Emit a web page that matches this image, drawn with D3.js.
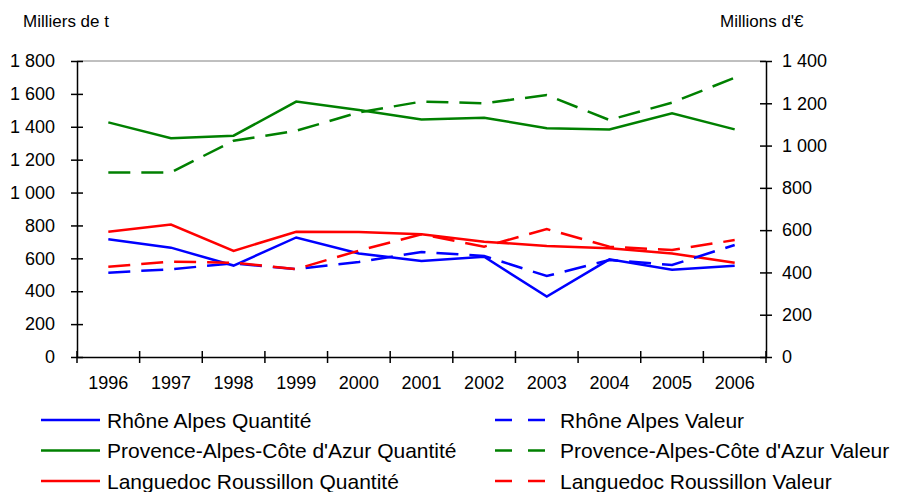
<!DOCTYPE html>
<html><head><meta charset="utf-8">
<script src="https://cdn.jsdelivr.net/npm/d3@7/dist/d3.min.js"></script>
<style>
body{margin:0;background:#fff;}
text{font-family:"Liberation Sans",Arial,sans-serif;fill:#000;}
</style></head>
<body><svg id="c" width="899" height="492"></svg>
<script>
const years = ["1996","1997","1998","1999","2000","2001","2002","2003","2004","2005","2006"];
const leftTicks = [0,200,400,600,800,1000,1200,1400,1600,1800];
const rightTicks = [0,200,400,600,800,1000,1200,1400];
const rhoneQ = [716,665,556,727,630,584,610,367,594,530,555];
const pacaQ  = [1427,1330,1346,1553,1502,1445,1455,1391,1384,1482,1384];
const langQ  = [762,805,645,762,760,746,701,675,661,630,573];
const rhoneV = [399,415,443,416,449,497,478,383,459,435,530];
const pacaV  = [873,873,1023,1070,1157,1208,1200,1239,1121,1203,1321];
const langV  = [427,451,446,416,503,580,522,605,522,506,553];
const seriesNames = ["Rhône Alpes Quantité","Provence-Alpes-Côte d'Azur Quantité","Languedoc Roussillon Quantité",
  "Rhône Alpes Valeur","Provence-Alpes-Côte d'Azur Valeur","Languedoc Roussillon Valeur"];
const colors = ["#0000ff","#008000","#ff0000"];

const svg = d3.select("#c");
const L = 77, R = 766, T = 61, B = 357;
const x = d3.scaleBand().domain(years).range([L,R]);
const yL = d3.scaleLinear().domain([0,1800]).range([B,T]);
const yR = d3.scaleLinear().domain([0,1400]).range([B,T]);
const loc = d3.formatLocale({decimal:",",thousands:" ",grouping:[3],currency:["","€"]});
const fmt = loc.format(",d");

// top border
svg.append("line").attr("x1",L).attr("x2",R).attr("y1",T).attr("y2",T).attr("stroke","#808080").attr("stroke-width",1);

// left axis
const gL = svg.append("g").attr("transform",`translate(${L},0)`)
  .call(d3.axisLeft(yL).tickValues(leftTicks).tickFormat(fmt).tickSizeInner(6).tickSizeOuter(0).tickPadding(16));
gL.selectAll(".tick line").attr("x2",6).attr("x1",-6);
// right axis
const gR = svg.append("g").attr("transform",`translate(${R},0)`)
  .call(d3.axisRight(yR).tickValues(rightTicks).tickFormat(fmt).tickSizeInner(6).tickSizeOuter(0).tickPadding(10));
gR.selectAll(".tick line").attr("x1",-6).attr("x2",6);
// bottom axis
const gB = svg.append("g").attr("transform",`translate(0,${B})`)
  .call(d3.axisBottom(x).tickSizeOuter(0).tickSize(0).tickPadding(16));
// band boundary ticks
const bounds = years.map(d=>x(d)).concat([R]);
gB.selectAll(".bt").data(bounds).enter().append("line").attr("class","bt")
  .attr("x1",d=>d).attr("x2",d=>d).attr("y1",-6).attr("y2",6).attr("stroke","#000").attr("stroke-width",1.5);
[gL,gR,gB].forEach(g=>{
  g.selectAll("path.domain").attr("stroke","#000").attr("stroke-width",1.5);
  g.selectAll(".tick line").attr("stroke","#000").attr("stroke-width",1.5);
  g.selectAll("text").style("font-size","18px").attr("fill","#000");
});
gB.selectAll(".tick text").attr("dy","0.9em");

svg.append("text").attr("x",23).attr("y",27).style("font-size","17px").text("Milliers de t");
svg.append("text").attr("x",720).attr("y",27).style("font-size","17px").text("Millions d'€");

const cx = d => x(d) + x.bandwidth()/2;
const lineL = d3.line().x((d,i)=>cx(years[i])).y(d=>yL(d));
const lineR = d3.line().x((d,i)=>cx(years[i])).y(d=>yR(d));
const quant = [rhoneQ,pacaQ,langQ];
const val = [rhoneV,pacaV,langV];
quant.forEach((s,i)=>{
  svg.append("path").datum(s).attr("d",lineL).attr("fill","none").attr("stroke",colors[i]).attr("stroke-width",2.5);
});
val.forEach((s,i)=>{
  svg.append("path").datum(s).attr("d",lineR).attr("fill","none").attr("stroke",colors[i]).attr("stroke-width",2.5).attr("stroke-dasharray","22,11");
});

// legend
const leg = svg.append("g");
seriesNames.forEach((n,i)=>{
  const col = Math.floor(i/3), row = i%3;
  const yy = 420 + row*30.5;
  const x0 = col===0 ? 41 : 495;
  leg.append("line").attr("x1",x0).attr("x2",x0+col*0+ (col===0?59:53)).attr("y1",yy).attr("y2",yy)
    .attr("stroke",colors[row]).attr("stroke-width",2.5).attr("stroke-dasharray",col===0?null:"17,16");
  leg.append("text").attr("x",col===0?107:560).attr("y",yy).attr("dy","0.36em").style("font-size","21px").text(n);
});
</script></body></html>
